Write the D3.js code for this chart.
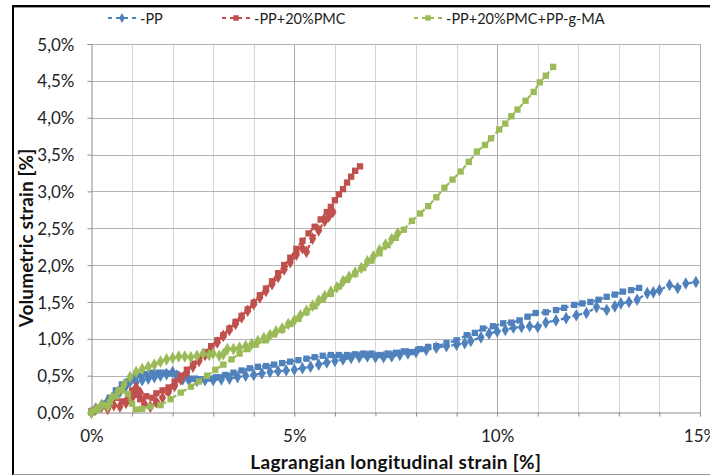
<!DOCTYPE html>
<html><head><meta charset="utf-8">
<script src="https://cdn.jsdelivr.net/npm/d3@7"></script>
<style>body{margin:0;background:#fff;}svg{display:block;font-family:Lato,"Open Sans",sans-serif;}</style>
</head><body><svg id="c" width="710" height="476"></svg>
<script>
// x = Lagrangian longitudinal strain [%], y = Volumetric strain [%]
const xTickLabels = ["0%","5%","10%","15%"];
const yTickLabels = ["0,0%","0,5%","1,0%","1,5%","2,0%","2,5%","3,0%","3,5%","4,0%","4,5%","5,0%"];
const legendNames = ["PP","PP+20%PMC","PP+20%PMC+PP-g-MA"];

const ppA = [[0,0],[0.1,0.05],[0.25,0.1],[0.4,0.16],[0.55,0.22],[0.7,0.28],[0.85,0.36],[0.95,0.42],[1.1,0.41],[1.25,0.44],[1.4,0.46],[1.55,0.48],[1.7,0.5],[1.85,0.52],[2.0,0.55],[2.1,0.5],[2.25,0.45],[2.4,0.44],[2.6,0.43],[2.8,0.44],[3.0,0.44],[3.2,0.45],[3.4,0.46],[3.6,0.48],[3.8,0.5],[4.0,0.51],[4.2,0.53],[4.4,0.55],[4.6,0.56],[4.8,0.57],[5.0,0.58],[5.2,0.6],[5.4,0.62],[5.6,0.65],[5.8,0.68],[6.0,0.7],[6.2,0.72],[6.4,0.74],[6.6,0.75],[6.8,0.76],[7.0,0.75],[7.2,0.75],[7.4,0.76],[7.6,0.78],[7.8,0.8],[8.0,0.82],[8.25,0.85],[8.5,0.88],[8.75,0.9],[9.0,0.92],[9.2,0.94],[9.35,0.97],[9.6,1.02],[9.8,1.07],[10.0,1.1],[10.2,1.12],[10.4,1.15],[10.6,1.16],[10.8,1.17],[11.0,1.16],[11.2,1.22],[11.45,1.25],[11.7,1.28],[11.95,1.32],[12.2,1.35],[12.45,1.43],[12.7,1.39],[12.9,1.44],[13.05,1.48],[13.25,1.5],[13.45,1.53],[13.7,1.62],[13.85,1.63],[14.0,1.66],[14.25,1.73],[14.45,1.69],[14.65,1.75],[14.9,1.77]];
const ppB = [[0,0],[0.15,0.06],[0.3,0.12],[0.45,0.2],[0.6,0.3],[0.75,0.38],[0.9,0.42],[1.05,0.47],[1.2,0.5],[1.35,0.52],[1.5,0.54],[1.65,0.54],[1.8,0.54],[1.95,0.53],[2.1,0.52],[2.3,0.48],[2.5,0.46],[2.7,0.45],[2.9,0.46],[3.1,0.48],[3.3,0.51],[3.5,0.54],[3.7,0.57],[3.9,0.6],[4.1,0.62],[4.3,0.63],[4.5,0.65],[4.7,0.67],[4.9,0.69],[5.1,0.71],[5.3,0.73],[5.5,0.75],[5.7,0.77],[5.9,0.78],[6.1,0.78],[6.3,0.78],[6.5,0.79],[6.7,0.8],[6.9,0.8],[7.1,0.78],[7.3,0.8],[7.5,0.81],[7.7,0.83],[7.9,0.82],[8.1,0.86],[8.3,0.89],[8.5,0.9],[8.75,0.94],[9.0,0.98],[9.25,1.05],[9.45,1.08],[9.65,1.14],[9.9,1.17],[10.15,1.21],[10.35,1.22],[10.55,1.25],[10.75,1.3],[10.95,1.35],[11.2,1.36],[11.45,1.39],[11.65,1.42],[11.9,1.46],[12.1,1.48],[12.3,1.5],[12.5,1.53],[12.7,1.57],[12.9,1.6],[13.1,1.64],[13.3,1.66],[13.5,1.69]];
const pmcA = [[0,0.02],[0.15,0.06],[0.3,0.1],[0.45,0.13],[0.6,0.2],[0.75,0.15],[0.9,0.22],[1.0,0.3],[1.1,0.24],[1.2,0.18],[1.35,0.22],[1.5,0.2],[1.6,0.26],[1.75,0.3],[1.9,0.34],[2.05,0.42],[2.2,0.5],[2.35,0.58],[2.5,0.66],[2.65,0.74],[2.8,0.82],[2.95,0.9],[3.1,0.98],[3.25,1.05],[3.4,1.14],[3.55,1.23],[3.7,1.31],[3.85,1.4],[4.0,1.49],[4.15,1.59],[4.3,1.68],[4.45,1.78],[4.6,1.89],[4.75,2.0],[4.9,2.1],[5.05,2.22],[5.2,2.33],[5.35,2.43],[5.5,2.52],[5.65,2.62],[5.8,2.72],[5.9,2.79],[6.0,2.88],[6.1,2.96],[6.2,3.03],[6.3,3.12],[6.4,3.2],[6.5,3.28],[6.62,3.34]];
const pmcB = [[0,0],[0.1,0.04],[0.25,0.08],[0.4,0.05],[0.55,0.1],[0.7,0.08],[0.85,0.13],[1.0,0.2],[1.1,0.34],[1.2,0.27],[1.3,0.12],[1.45,0.08],[1.6,0.14],[1.75,0.2],[1.9,0.28],[2.05,0.36],[2.2,0.45],[2.35,0.54],[2.5,0.62],[2.65,0.7],[2.8,0.78],[2.95,0.86],[3.1,0.95],[3.25,1.04],[3.4,1.12],[3.55,1.2],[3.7,1.29],[3.85,1.38],[4.0,1.47],[4.15,1.56],[4.3,1.65],[4.45,1.74],[4.6,1.84],[4.75,1.94],[4.9,2.04],[5.05,2.14],[5.2,2.23],[5.3,2.18],[5.45,2.36],[5.6,2.47],[5.75,2.6],[5.85,2.66],[5.95,2.72]];
const maA = [[0,0],[0.15,0.04],[0.3,0.1],[0.45,0.14],[0.6,0.22],[0.75,0.3],[0.9,0.25],[1.0,0.12],[1.1,0.04],[1.25,0.05],[1.45,0.08],[1.7,0.1],[1.95,0.18],[2.2,0.27],[2.45,0.35],[2.65,0.42],[2.85,0.5],[3.05,0.58],[3.25,0.65],[3.45,0.72],[3.65,0.8],[3.85,0.86],[4.05,0.92],[4.3,0.98],[4.5,1.06],[4.7,1.12],[4.9,1.2],[5.1,1.27],[5.3,1.36],[5.5,1.44],[5.7,1.53],[5.9,1.61],[6.1,1.71],[6.3,1.8],[6.5,1.88],[6.7,1.96],[6.9,2.06],[7.1,2.16],[7.3,2.27],[7.5,2.37],[7.7,2.48],[7.9,2.6],[8.1,2.7],[8.3,2.8],[8.5,2.92],[8.7,3.05],[8.9,3.16],[9.1,3.27],[9.3,3.4],[9.5,3.54],[9.7,3.63],[9.85,3.72],[10.05,3.84],[10.2,3.92],[10.35,4.02],[10.5,4.11],[10.7,4.23],[10.9,4.35],[11.05,4.48],[11.2,4.57],[11.38,4.69]];
const maB = [[0,0],[0.12,0.05],[0.25,0.1],[0.4,0.08],[0.5,0.2],[0.65,0.28],[0.8,0.38],[0.95,0.48],[1.1,0.55],[1.25,0.59],[1.4,0.62],[1.55,0.65],[1.7,0.69],[1.85,0.72],[2.0,0.74],[2.15,0.76],[2.3,0.76],[2.45,0.75],[2.6,0.77],[2.75,0.8],[2.9,0.78],[3.0,0.8],[3.15,0.77],[3.25,0.79],[3.35,0.86],[3.5,0.86],[3.65,0.88],[3.8,0.9],[3.95,0.93],[4.1,0.97],[4.25,1.01],[4.4,1.05],[4.55,1.1],[4.7,1.14],[4.85,1.2],[5.0,1.25],[5.15,1.32],[5.3,1.38],[5.45,1.45],[5.6,1.52],[5.75,1.58],[5.9,1.64],[6.05,1.7],[6.2,1.78],[6.35,1.84],[6.5,1.9],[6.65,1.96],[6.8,2.05],[6.95,2.12],[7.1,2.2],[7.25,2.28],[7.4,2.35],[7.55,2.43]];

const colors = ["#4F81BD","#C0504D","#9BBB59"];
const series = [
  {data: ppB, color: colors[0], sym: d3.symbolSquare},
  {data: ppA, color: colors[0], sym: d3.symbolDiamond},
  {data: pmcB, color: colors[1], sym: d3.symbolDiamond},
  {data: pmcA, color: colors[1], sym: d3.symbolSquare},
  {data: maB, color: colors[2], sym: d3.symbolDiamond},
  {data: maA, color: colors[2], sym: d3.symbolSquare}
];

const svg = d3.select("#c");
const L = 91.5, R = 700, T = 44, B = 412.5;
const x = d3.scaleLinear().domain([0,15]).range([L,R]);
const y = d3.scaleLinear().domain([0,5]).range([B,T]);

// chart frame
svg.append("line").attr("x1",13).attr("x2",710).attr("y1",6).attr("y2",6).attr("stroke","#000").attr("stroke-width",2);
svg.append("line").attr("x1",13).attr("x2",710).attr("y1",7.5).attr("y2",7.5).attr("stroke","#999").attr("stroke-width",1);
svg.append("line").attr("x1",13).attr("x2",13).attr("y1",5).attr("y2",475).attr("stroke","#000").attr("stroke-width",2);
svg.append("line").attr("x1",13).attr("x2",710).attr("y1",474.5).attr("y2",474.5).attr("stroke","#9a9a9a").attr("stroke-width",1);

// gridlines
const g = svg.append("g");
g.selectAll(".vg").data(d3.range(1,16)).join("line")
  .attr("x1",d=>Math.round(x(d))+0.5).attr("x2",d=>Math.round(x(d))+0.5).attr("y1",T).attr("y2",B)
  .attr("stroke",d=>d%5===0?"#a8a8a8":"#d6d6d6").attr("stroke-width",1);
g.selectAll(".hg").data(d3.range(1,11).map(d=>d/2)).join("line")
  .attr("x1",L).attr("x2",R).attr("y1",d=>Math.round(y(d))+0.5).attr("y2",d=>Math.round(y(d))+0.5)
  .attr("stroke","#b4b4b4").attr("stroke-width",1);

// axes
const xAxis = d3.axisBottom(x).tickValues(d3.range(0,16)).tickSize(4)
  .tickFormat(d => d%5===0 ? xTickLabels[d/5] : "");
const xa = svg.append("g").attr("transform",`translate(0,${B})`).call(xAxis);
xa.select(".domain").attr("stroke","#8c8c8c");
xa.selectAll(".tick line").attr("stroke","#8c8c8c");
xa.selectAll(".tick text").attr("font-size",17).attr("fill","#222").attr("y",29).attr("dy",0).attr("font-family","Lato");

const yAxis = d3.axisLeft(y).tickValues(d3.range(0,11).map(d=>d/2)).tickSize(4)
  .tickFormat((d,i) => yTickLabels[i]);
const ya = svg.append("g").attr("transform",`translate(${L},0)`).call(yAxis);
ya.select(".domain").attr("stroke","#8c8c8c");
ya.selectAll(".tick line").attr("stroke","#8c8c8c");
ya.selectAll(".tick text").attr("font-size",17).attr("fill","#222").attr("x",-17).attr("dy","0.36em").attr("font-family","Lato");

// series
const line = d3.line().x(d=>x(d[0])).y(d=>y(d[1]));
series.forEach(s => {
  const sg = svg.append("g");
  sg.append("path").attr("d",line(s.data)).attr("fill","none").attr("stroke",s.color)
    .attr("stroke-width",2.2).attr("stroke-dasharray","4,2");
  sg.selectAll("path.m").data(s.data).join("path").attr("class","m")
    .attr("transform",d=>`translate(${x(d[0])},${y(d[1])})`)
    .attr("d",d3.symbol().type(s.sym).size(s.sym===d3.symbolSquare?40:46))
    .attr("fill",s.color);
});

// axis titles
svg.append("text").attr("x",(L+R)/2).attr("y",469).attr("text-anchor","middle")
  .attr("font-size",19).attr("font-weight","bold").attr("letter-spacing",0.3).attr("fill","#111").text("Lagrangian longitudinal strain [%]");
svg.append("text").attr("transform",`translate(33,238) rotate(-90)`).attr("text-anchor","middle")
  .attr("font-size",19).attr("font-weight","bold").attr("letter-spacing",0.1).attr("fill","#111").text("Volumetric strain [%]");

// legend
const legendX = [108, 222, 414];
const legendSym = [d3.symbolDiamond, d3.symbolSquare, d3.symbolSquare];
const lg = svg.append("g");
legendNames.forEach((n,i) => {
  const lx = legendX[i], ly = 18;
  lg.append("line").attr("x1",lx).attr("x2",lx+30).attr("y1",ly).attr("y2",ly)
    .attr("stroke",colors[i]).attr("stroke-width",2).attr("stroke-dasharray","4,4");
  lg.append("path").attr("transform",`translate(${lx+14},${ly})`)
    .attr("d",d3.symbol().type(legendSym[i]).size(30)).attr("fill",colors[i]);
  lg.append("text").attr("x",lx+32).attr("y",ly+5.5).attr("font-size",14.5).attr("fill","#222").text("-"+n);
});
</script></body></html>
